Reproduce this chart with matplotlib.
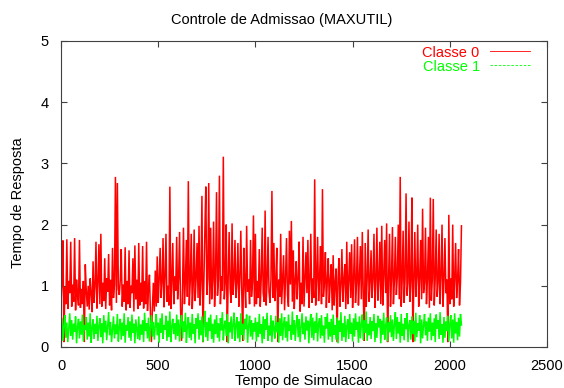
import numpy as np
import matplotlib
matplotlib.use('Agg')
import matplotlib.pyplot as plt
from matplotlib.lines import Line2D

plt.rcParams['font.family'] = ['Liberation Sans', 'DejaVu Sans']

# tempo de resposta, classe 0 (amostras a cada 5 unidades de tempo)
classe0 = [
    0.72, 1.05, 1.74, 0.08, 0.98, 0.70, 1.76, 0.62, 1.08, 0.88, 1.72, 0.66, 1.02, 0.74, 1.78, 0.60, 1.10, 0.85, 0.68, 1.75,
    0.64, 0.95, 0.70, 1.08, 0.08, 1.35, 0.92, 0.66, 1.00, 0.61, 1.12, 0.88, 0.57, 1.40, 0.72, 0.99, 1.72, 0.63, 1.05, 1.68,
    0.70, 1.85, 0.66, 1.05, 0.75, 1.45, 0.62, 1.12, 0.90, 1.52, 0.68, 1.10, 0.60, 1.62, 0.80, 1.02, 2.78, 0.72, 2.68, 0.95,
    0.85, 1.10, 1.60, 0.66, 1.02, 0.74, 1.63, 0.60, 1.08, 0.70, 1.58, 0.64, 1.00, 0.88, 1.45, 0.58, 1.66, 0.78, 1.10, 0.62,
    1.70, 0.68, 1.05, 0.74, 1.65, 0.63, 1.08, 0.70, 1.72, 0.59, 0.95, 1.18, 0.55, 0.08, 0.62, 1.05, 0.58, 1.25, 0.66, 1.48,
    0.72, 1.10, 1.62, 0.80, 1.05, 1.78, 0.65, 1.12, 1.85, 0.74, 1.00, 0.68, 2.62, 0.62, 1.08, 1.70, 0.70, 1.15, 0.92, 1.80,
    0.78, 1.12, 1.88, 0.64, 0.10, 0.90, 1.95, 0.70, 1.10, 1.75, 0.82, 2.71, 0.68, 1.08, 1.85, 0.62, 1.00, 1.92, 0.75, 1.12,
    1.70, 0.80, 1.98, 0.68, 1.10, 2.47, 0.08, 1.05, 1.90, 2.62, 0.85, 1.12, 2.68, 0.70, 1.95, 0.78, 1.08, 2.05, 0.66, 1.15,
    2.53, 0.84, 1.10, 2.80, 0.70, 1.15, 0.92, 3.11, 0.78, 1.08, 2.00, 0.08, 1.12, 1.88, 0.95, 0.72, 2.02, 0.85, 1.10, 1.75,
    0.80, 1.05, 1.70, 0.66, 1.12, 1.90, 0.88, 0.10, 1.62, 1.08, 0.64, 1.98, 0.90, 1.10, 0.70, 1.75, 0.82, 1.05, 2.15, 0.66,
    1.85, 0.70, 1.08, 0.80, 1.60, 0.66, 1.12, 1.95, 0.88, 0.74, 2.23, 0.68, 1.05, 1.80, 0.90, 0.72, 1.10, 2.55, 0.80, 1.70,
    0.75, 1.05, 1.62, 0.08, 1.10, 0.82, 1.85, 0.70, 1.08, 1.50, 0.60, 1.12, 1.78, 0.85, 0.66, 1.90, 1.02, 2.06, 0.74, 1.58,
    0.62, 1.08, 1.40, 0.78, 1.12, 1.72, 0.58, 1.05, 0.70, 1.80, 0.66, 1.10, 1.55, 0.88, 1.75, 0.64, 1.08, 1.85, 0.72, 1.12,
    0.80, 2.74, 0.68, 1.10, 1.80, 0.75, 1.12, 1.65, 0.70, 2.58, 0.82, 1.05, 1.55, 0.64, 1.10, 1.45, 0.72, 1.08, 1.35, 0.60,
    1.50, 0.68, 1.05, 1.28, 0.08, 1.12, 1.45, 0.66, 1.02, 1.60, 0.74, 1.10, 1.35, 0.62, 1.72, 0.70, 1.08, 1.55, 0.80, 1.68,
    0.64, 1.10, 1.76, 0.72, 1.05, 1.80, 0.68, 1.12, 1.65, 0.78, 1.88, 0.84, 0.10, 1.70, 0.66, 1.12, 1.92, 0.74, 1.05, 1.58,
    0.80, 1.12, 1.85, 0.64, 1.08, 1.95, 0.76, 1.10, 1.72, 0.70, 1.98, 0.68, 1.15, 1.75, 0.88, 2.02, 0.08, 1.10, 1.85, 0.66,
    1.12, 1.96, 0.70, 1.08, 1.80, 0.85, 1.15, 2.00, 0.78, 2.78, 0.66, 1.10, 1.90, 0.72, 1.12, 2.51, 0.84, 1.05, 2.05, 0.74,
    1.10, 2.44, 0.08, 1.08, 1.88, 0.82, 1.15, 2.00, 0.66, 1.10, 1.75, 0.78, 2.26, 0.88, 1.05, 1.95, 0.70, 1.12, 1.80, 0.64,
    2.44, 0.76, 1.10, 2.42, 0.68, 1.12, 1.92, 0.82, 1.05, 1.85, 0.70, 1.15, 2.00, 0.66, 1.08, 1.78, 0.88, 1.10, 0.08, 2.16,
    0.70, 1.12, 0.78, 2.00, 0.66, 1.10, 1.70, 0.80, 1.08, 1.60, 0.68, 1.05, 1.98,
]

# tempo de resposta, classe 1
classe1 = [
    0.22, 0.48, 0.10, 0.35, 0.52, 0.15, 0.40, 0.08, 0.30, 0.55, 0.18, 0.44, 0.12, 0.38, 0.25, 0.50, 0.06, 0.33, 0.46, 0.14,
    0.42, 0.20, 0.53, 0.09, 0.36, 0.28, 0.49, 0.12, 0.40, 0.17, 0.55, 0.07, 0.31, 0.45, 0.13, 0.38, 0.22, 0.51, 0.10, 0.34,
    0.47, 0.16, 0.39, 0.06, 0.52, 0.24, 0.43, 0.11, 0.35, 0.57, 0.19, 0.41, 0.08, 0.30, 0.50, 0.14, 0.37, 0.21, 0.54, 0.09,
    0.33, 0.46, 0.12, 0.40, 0.18, 0.55, 0.07, 0.36, 0.27, 0.49, 0.15, 0.42, 0.10, 0.53, 0.23, 0.38, 0.06, 0.45, 0.29, 0.13,
    0.50, 0.11, 0.37, 0.20, 0.44, 0.08, 0.56, 0.26, 0.39, 0.14, 0.48, 0.09, 0.32, 0.52, 0.17, 0.41, 0.12, 0.35, 0.54, 0.19,
    0.40, 0.07, 0.47, 0.23, 0.55, 0.13, 0.36, 0.28, 0.51, 0.10, 0.43, 0.16, 0.58, 0.08, 0.34, 0.46, 0.21, 0.39, 0.12, 0.53,
    0.18, 0.45, 0.09, 0.38, 0.52, 0.14, 0.42, 0.25, 0.56, 0.07, 0.33, 0.49, 0.15, 0.40, 0.11, 0.54, 0.22, 0.37, 0.06, 0.47,
    0.30, 0.55, 0.12, 0.44, 0.19, 0.50, 0.08, 0.36, 0.59, 0.16, 0.41, 0.10, 0.48, 0.26, 0.53, 0.13, 0.38, 0.07, 0.45, 0.21,
    0.52, 0.15, 0.39, 0.09, 0.47, 0.27, 0.57, 0.11, 0.35, 0.43, 0.18, 0.54, 0.06, 0.40, 0.24, 0.50, 0.13, 0.37, 0.56, 0.10,
    0.36, 0.49, 0.14, 0.42, 0.08, 0.55, 0.20, 0.38, 0.11, 0.46, 0.29, 0.53, 0.07, 0.34, 0.51, 0.17, 0.44, 0.12, 0.39, 0.25,
    0.48, 0.09, 0.41, 0.16, 0.54, 0.22, 0.37, 0.06, 0.50, 0.13, 0.45, 0.28, 0.56, 0.10, 0.35, 0.19, 0.52, 0.08, 0.43, 0.31,
    0.14, 0.51, 0.24, 0.40, 0.07, 0.47, 0.18, 0.55, 0.11, 0.38, 0.49, 0.15, 0.42, 0.09, 0.53, 0.26, 0.36, 0.12, 0.58, 0.20,
    0.44, 0.10, 0.37, 0.52, 0.16, 0.46, 0.08, 0.33, 0.55, 0.21, 0.40, 0.12, 0.50, 0.27, 0.43, 0.06, 0.39, 0.54, 0.15, 0.48,
    0.11, 0.42, 0.23, 0.56, 0.09, 0.38, 0.47, 0.14, 0.52, 0.19, 0.35, 0.07, 0.49, 0.30, 0.55, 0.12, 0.41, 0.17, 0.46, 0.08,
    0.53, 0.20, 0.36, 0.12, 0.48, 0.06, 0.43, 0.25, 0.57, 0.10, 0.39, 0.16, 0.51, 0.08, 0.34, 0.45, 0.13, 0.54, 0.22, 0.40,
    0.09, 0.47, 0.17, 0.55, 0.28, 0.41, 0.07, 0.50, 0.14, 0.37, 0.53, 0.11, 0.44, 0.23, 0.58, 0.10, 0.38, 0.19, 0.49, 0.13,
    0.42, 0.26, 0.54, 0.08, 0.39, 0.15, 0.51, 0.32, 0.46, 0.06, 0.43, 0.20, 0.56, 0.12, 0.35, 0.48, 0.09, 0.40, 0.24, 0.52,
    0.16, 0.45, 0.10, 0.37, 0.57, 0.13, 0.49, 0.22, 0.41, 0.07, 0.54, 0.18, 0.38, 0.11, 0.47, 0.29, 0.55, 0.08, 0.36, 0.44,
    0.12, 0.50, 0.21, 0.43, 0.09, 0.56, 0.16, 0.39, 0.27, 0.52, 0.06, 0.45, 0.14, 0.36, 0.54, 0.19, 0.42, 0.10, 0.48, 0.25,
    0.55, 0.11, 0.40, 0.18, 0.47, 0.08, 0.53, 0.30, 0.44, 0.13, 0.57, 0.20, 0.37, 0.07, 0.49, 0.15, 0.42, 0.26, 0.51, 0.09,
    0.38, 0.52, 0.14, 0.45, 0.07, 0.55, 0.22, 0.41, 0.11, 0.48, 0.17, 0.54, 0.36,
]

passo = 5
tempo = np.arange(len(classe0)) * passo

xticks = [0, 500, 1000, 1500, 2000, 2500]
yticks = [0, 1, 2, 3, 4, 5]

fig = plt.figure(figsize=(5.64, 3.88), dpi=100)
ax = fig.add_axes([61 / 564, 41 / 388, 486 / 564, 306 / 388])

ax.plot(tempo, classe0, color='#ff0000', lw=1.1, solid_joinstyle='miter')
ax.plot(tempo, classe1, color='#00ff00', lw=1.1, solid_joinstyle='miter')

ax.set_xlim(0, 2500)
ax.set_ylim(0, 5)
ax.set_xticks(xticks)
ax.set_yticks(yticks)
ax.tick_params(direction='in', length=4, width=0.8, color='#404040',
               top=True, right=True, labelsize=10.5, pad=9)
for s in ax.spines.values():
    s.set_color('#404040')
    s.set_linewidth(0.8)

handles = [Line2D([], [], color='#ff0000', lw=0.6),
           Line2D([], [], color='#00ff00', lw=0.6, ls=(0, (3, 2)))]
leg = ax.legend(handles, ['Classe 0', 'Classe 1'], loc='upper right',
                bbox_to_anchor=(469 / 486, 0.985),
                frameon=False, markerfirst=False, fontsize=10.5,
                handlelength=2.75, handletextpad=0.7, labelspacing=0.0,
                borderpad=0, borderaxespad=0, labelcolor='linecolor')

fig.text(0.5, 1 - 20 / 388, 'Controle de Admissao (MAXUTIL)', ha='center', va='center', fontsize=10.5)
fig.text(304 / 564, 1 - 381 / 388, 'Tempo de Simulacao', ha='center', va='center', fontsize=10.5)
fig.text(18 / 564, 1 - 203 / 388, 'Tempo de Resposta', ha='center', va='center', rotation=90, fontsize=10.5)

fig.savefig('out.png', dpi=100)
